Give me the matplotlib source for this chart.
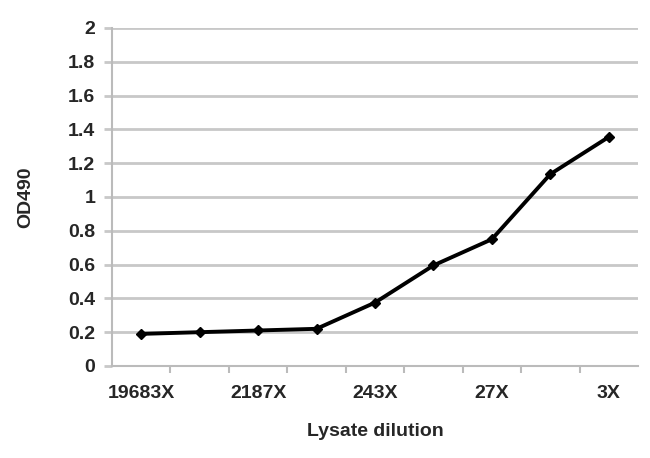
import matplotlib
matplotlib.use("Agg")
import matplotlib.pyplot as plt
import numpy as np

categories = ["19683X", "6561X", "2187X", "729X", "243X", "81X", "27X", "9X", "3X"]
od490 = [0.19, 0.20, 0.21, 0.22, 0.375, 0.595, 0.75, 1.135, 1.355]
y_ticks = [0, 0.2, 0.4, 0.6, 0.8, 1, 1.2, 1.4, 1.6, 1.8, 2]
y_tick_labels = ["0", "0.2", "0.4", "0.6", "0.8", "1", "1.2", "1.4", "1.6", "1.8", "2"]

plt.rcParams['font.family'] = ['Liberation Sans', 'DejaVu Sans']
txt_color = '#262626'
fs = 14

fig = plt.figure(figsize=(6.5, 4.58), dpi=100)
ax = fig.add_axes([0.1723, 0.2009, 0.8092, 0.738])

x = np.arange(len(categories))
ax.plot(x, od490, color='black', lw=2.8, marker='D', ms=5.5, zorder=3)

ax.set_xlim(-0.5, len(categories) - 0.5)
ax.set_ylim(0, 2)
ax.set_yticks(y_ticks)
ax.set_yticklabels(y_tick_labels, fontsize=fs, fontweight='bold', color=txt_color)
ax.yaxis.grid(True, color='#c8c8c8', lw=2)
ax.set_axisbelow(True)

ax.set_xticks(x[::2])
ax.set_xticklabels(categories[::2], fontsize=fs, fontweight='bold', color=txt_color)
ax.set_xticks(np.arange(0.5, len(categories) - 0.5, 1), minor=True)
ax.tick_params(axis='x', which='major', length=0, pad=14)
ax.tick_params(axis='x', which='minor', length=5, width=1.5, color='#bbbbbb')
ax.tick_params(axis='y', length=6, width=2, color='#c8c8c8', pad=6)

for s in ['top', 'right']:
    ax.spines[s].set_visible(False)
for s in ['left', 'bottom']:
    ax.spines[s].set_color('#bbbbbb')
    ax.spines[s].set_linewidth(1.5)

ax.set_xlabel("Lysate dilution", fontsize=fs, fontweight='bold', color=txt_color, labelpad=15)
ax.set_ylabel("OD490", fontsize=fs, fontweight='bold', color=txt_color, labelpad=24)

fig.savefig("out.png", dpi=100)
